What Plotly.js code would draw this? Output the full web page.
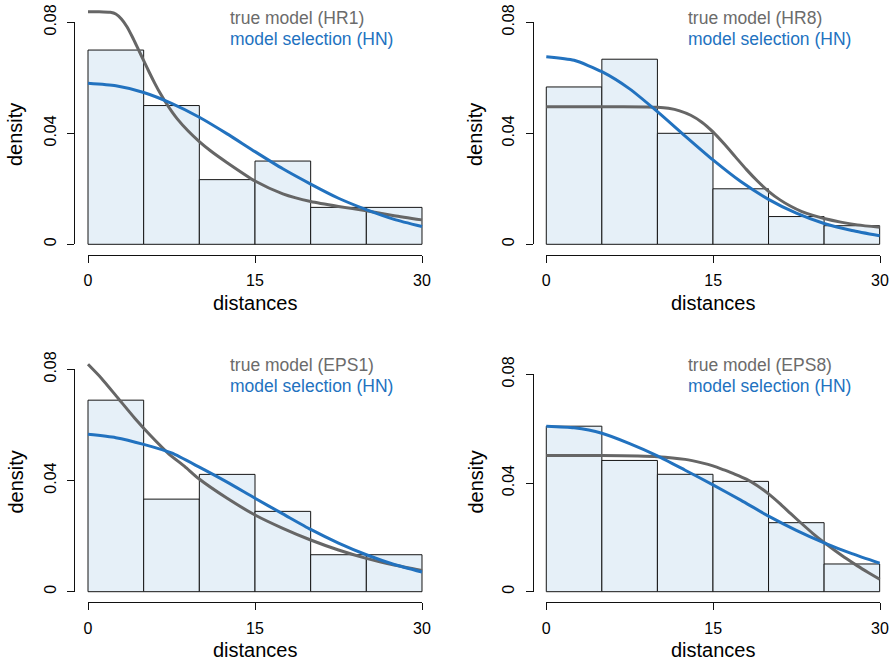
<!DOCTYPE html>
<html>
<head>
<meta charset="utf-8">
<script src="https://cdn.plot.ly/plotly-3.0.1.min.js"></script>
<style>
html,body{margin:0;padding:0;background:#fff;}
#chart{width:893px;height:661px;}
</style>
</head>
<body>
<div id="chart"></div>
<script>
// ---------------- data ----------------
const binMids = [2.5, 7.5, 12.5, 17.5, 22.5, 27.5];
const xTicks = [0, 15, 30];
const xTickText = ['0', '15', '30'];
const yTicks = [0, 0.04, 0.08];
const yTickText = ['0', '0.04', '0.08'];

const trueLabels = ['true model (HR1)', 'true model (HR8)', 'true model (EPS1)', 'true model (EPS8)'];
const selLabel = 'model selection (HN)';
const xTitle = 'distances';
const yTitle = 'density';

// histogram densities
const densHR1  = [0.0700, 0.0500, 0.0233, 0.0300, 0.0133, 0.0133];
const densHR8  = [0.0567, 0.0667, 0.0400, 0.0200, 0.0100, 0.0067];
const densEPS1 = [0.0689, 0.0333, 0.0422, 0.0289, 0.0133, 0.0133];
const densEPS8 = [0.0609, 0.0483, 0.0432, 0.0406, 0.0254, 0.0102];

// true model curves
const trueHR1x = [0, 1, 2, 2.5, 3, 3.5, 4, 4.5, 5, 5.5, 6, 6.5, 7, 7.5, 8, 9, 10, 11, 12.5, 15, 17.5, 20, 22.5, 25, 27.5, 30];
const trueHR1y = [0.0838, 0.0838, 0.0836, 0.0830, 0.0812, 0.0784, 0.0746, 0.0704, 0.0662, 0.0620, 0.0580, 0.0543, 0.0510, 0.0480, 0.0453, 0.0408, 0.0370, 0.0337, 0.0294, 0.0228, 0.0182, 0.0154, 0.0136, 0.0121, 0.0103, 0.0088];

const trueHR8x = [0, 5, 9, 10, 11, 12, 13, 14, 15, 16, 17, 18, 19, 20, 21, 22, 23, 24, 25, 26.5, 28, 30];
const trueHR8y = [0.0496, 0.0496, 0.0495, 0.0494, 0.0490, 0.0481, 0.0465, 0.0440, 0.0405, 0.0362, 0.0316, 0.0270, 0.0228, 0.0191, 0.0161, 0.0137, 0.0118, 0.0104, 0.0093, 0.0080, 0.0070, 0.0061];

const trueEPS1x = [0, 1.2, 2.7, 4.2, 5.7, 7.2, 8.7, 9.9, 12.5, 15, 17.5, 20, 22.5, 25, 27.5, 30];
const trueEPS1y = [0.0818, 0.0768, 0.0696, 0.0624, 0.0558, 0.0498, 0.0450, 0.0408, 0.0336, 0.0276, 0.0228, 0.0186, 0.0150, 0.0120, 0.0096, 0.0076];

const trueEPS8x = [0, 5, 10, 12.5, 14, 15, 16, 17, 18, 19, 20, 21, 22, 23, 24, 25, 26, 27, 28, 29, 30];
const trueEPS8y = [0.0501, 0.0501, 0.0497, 0.0487, 0.0474, 0.0463, 0.0448, 0.0432, 0.0414, 0.0390, 0.0360, 0.0325, 0.0287, 0.0250, 0.0214, 0.0181, 0.0151, 0.0122, 0.0095, 0.0070, 0.0046];

// model selection (HN) curves
const hnP1x = [0, 2.5, 5, 7.5, 10, 12.5, 15, 17.5, 20, 22.5, 25, 27.5, 30];
const hnP1y = [0.0580, 0.0571, 0.0547, 0.0508, 0.0458, 0.0398, 0.0334, 0.0272, 0.0217, 0.0166, 0.0125, 0.0090, 0.0064];

const hnP2x = [0, 2.5, 5, 7.5, 10, 12.5, 15, 17.5, 20, 22.5, 25, 27.5, 30];
const hnP2y = [0.0676, 0.0663, 0.0622, 0.0560, 0.0478, 0.0390, 0.0304, 0.0226, 0.0162, 0.0112, 0.0075, 0.0050, 0.0031];

const hnP3x = [0, 2.5, 5, 7.5, 10, 12.5, 15, 17.5, 20, 22.5, 25, 27.5, 30];
const hnP3y = [0.0566, 0.0554, 0.0530, 0.0499, 0.0448, 0.0394, 0.0336, 0.0280, 0.0224, 0.0175, 0.0133, 0.0098, 0.0071];

const hnP4x = [0, 2.5, 5, 7.5, 10, 12.5, 15, 17.5, 20, 22.5, 25, 27.5, 30];
const hnP4y = [0.0609, 0.0603, 0.0583, 0.0545, 0.0500, 0.0447, 0.0393, 0.0337, 0.0278, 0.0226, 0.0180, 0.0140, 0.0105];

// ---------------- styling / geometry ----------------
const W = 893, H = 661;
const FONT = 'Liberation Sans, Arial, Helvetica, sans-serif';
const GRAY = '#666666';
const GRAYTXT = '#6b6b6b';
const BLUE = '#2272bf';
const FILL = '#e6f0f8';
const EDGE = '#151515';
const AX = '#111111';

const fx = p => p / W;
const fy = p => 1 - p / H;

// pixel geometry of each panel
const panels = [
  {x0: 88,    x30: 422, y0: 244.3, y8: 22.3,  top: 0,   xline: 255,   yline: 74,
   leg: [227.7, 18.3, 39.3], xt: 303.3, yt: [15, 135]},
  {x0: 546.3, x30: 880, y0: 244.3, y8: 22.3,  top: 0,   xline: 255,   yline: 532.7,
   leg: [686, 18.3, 39.3], xt: 303.3, yt: [475, 135]},
  {x0: 88,    x30: 422, y0: 591.7, y8: 369.3, top: 340, xline: 602.3, yline: 74,
   leg: [227.7, 365, 386], xt: 650, yt: [15, 482.5]},
  {x0: 546.3, x30: 880, y0: 591.7, y8: 374.3, top: 340, xline: 602.3, yline: 532.7,
   leg: [686, 365, 386], xt: 650, yt: [475, 482.5]}
];

const dens = [densHR1, densHR8, densEPS1, densEPS8];
const trueX = [trueHR1x, trueHR8x, trueEPS1x, trueEPS8x];
const trueY = [trueHR1y, trueHR8y, trueEPS1y, trueEPS8y];
const hnX = [hnP1x, hnP2x, hnP3x, hnP4x];
const hnY = [hnP1y, hnP2y, hnP3y, hnP4y];

const traces = [];
const layout = {
  width: W, height: H,
  margin: {l: 0, r: 0, t: 0, b: 0},
  paper_bgcolor: '#ffffff',
  plot_bgcolor: 'rgba(0,0,0,0)',
  showlegend: false,
  bargap: 0,
  font: {family: FONT, color: '#000'},
  annotations: []
};

panels.forEach((p, i) => {
  const n = i + 1;
  const xs = n === 1 ? '' : String(n);
  const dx = 'x' + xs, dy = 'y' + xs;
  const sx = (p.x30 - p.x0) / 30;
  const sy = (p.y0 - p.y8) / 0.08;
  // data axes (hidden), R-like 4% padding on x
  layout['xaxis' + xs] = {
    domain: [fx(p.x0 - 1.2 * sx), fx(p.x30 + 1.2 * sx)],
    range: [-1.2, 31.2], visible: false, fixedrange: true, anchor: dy
  };
  layout['yaxis' + xs] = {
    domain: [fy(p.xline), fy(p.top)],
    range: [(p.y0 - p.xline) / sy, (p.y0 - p.top) / sy],
    visible: false, fixedrange: true, anchor: dx
  };
  traces.push({
    type: 'bar', x: binMids, y: dens[i], width: 5,
    xaxis: dx, yaxis: dy,
    marker: {color: FILL, line: {color: EDGE, width: 1}},
    hoverinfo: 'skip'
  });
  traces.push({
    type: 'scatter', mode: 'lines', x: trueX[i], y: trueY[i],
    xaxis: dx, yaxis: dy,
    line: {color: GRAY, width: 3, shape: 'spline', smoothing: 0.6},
    hoverinfo: 'skip'
  });
  traces.push({
    type: 'scatter', mode: 'lines', x: hnX[i], y: hnY[i],
    xaxis: dx, yaxis: dy,
    line: {color: BLUE, width: 3, shape: 'spline', smoothing: 0.6},
    hoverinfo: 'skip'
  });

  // decoration axes (R-style detached axes)
  const m = n + 4;
  layout['xaxis' + m] = {
    domain: [fx(p.x0), fx(p.x30)], range: [0, 30],
    anchor: 'free', position: fy(p.xline),
    showline: true, linecolor: AX, linewidth: 1,
    ticks: 'outside', ticklen: 7, tickwidth: 1, tickcolor: AX,
    tickvals: xTicks, ticktext: xTickText,
    tickfont: {family: FONT, size: 16, color: '#000'},
    showgrid: false, zeroline: false, fixedrange: true, automargin: false,
    ticklabelstandoff: 4
  };
  layout['yaxis' + m] = {
    domain: [fy(p.y0), fy(p.y8)], range: [0, 0.08],
    anchor: 'free', position: fx(p.yline),
    showline: true, linecolor: AX, linewidth: 1,
    ticks: 'outside', ticklen: 7, tickwidth: 1, tickcolor: AX,
    tickvals: yTicks, ticktext: yTickText, tickangle: -90,
    tickfont: {family: FONT, size: 16, color: '#000'},
    showgrid: false, zeroline: false, fixedrange: true, automargin: false,
    ticklabelstandoff: 5
  };
  traces.push({
    type: 'scatter', mode: 'markers', x: [null], y: [null],
    xaxis: 'x' + m, yaxis: 'y' + m, hoverinfo: 'skip', showlegend: false
  });

  // legend texts
  layout.annotations.push({
    xref: 'paper', yref: 'paper', x: fx(p.leg[0]), y: fy(p.leg[1]),
    xanchor: 'left', yanchor: 'middle', showarrow: false,
    text: trueLabels[i], font: {family: FONT, size: 17.5, color: GRAYTXT}
  });
  layout.annotations.push({
    xref: 'paper', yref: 'paper', x: fx(p.leg[0]), y: fy(p.leg[2]),
    xanchor: 'left', yanchor: 'middle', showarrow: false,
    text: selLabel, font: {family: FONT, size: 17.5, color: BLUE}
  });
  // axis titles
  layout.annotations.push({
    xref: 'paper', yref: 'paper', x: fx((p.x0 + p.x30) / 2), y: fy(p.xt),
    xanchor: 'center', yanchor: 'middle', showarrow: false,
    text: xTitle, font: {family: FONT, size: 20, color: '#000'}
  });
  layout.annotations.push({
    xref: 'paper', yref: 'paper', x: fx(p.yt[0]), y: fy(p.yt[1]),
    xanchor: 'center', yanchor: 'middle', showarrow: false, textangle: -90,
    text: yTitle, font: {family: FONT, size: 20, color: '#000'}
  });
});

Plotly.newPlot('chart', traces, layout, {staticPlot: true, displayModeBar: false});
</script>
</body>
</html>
